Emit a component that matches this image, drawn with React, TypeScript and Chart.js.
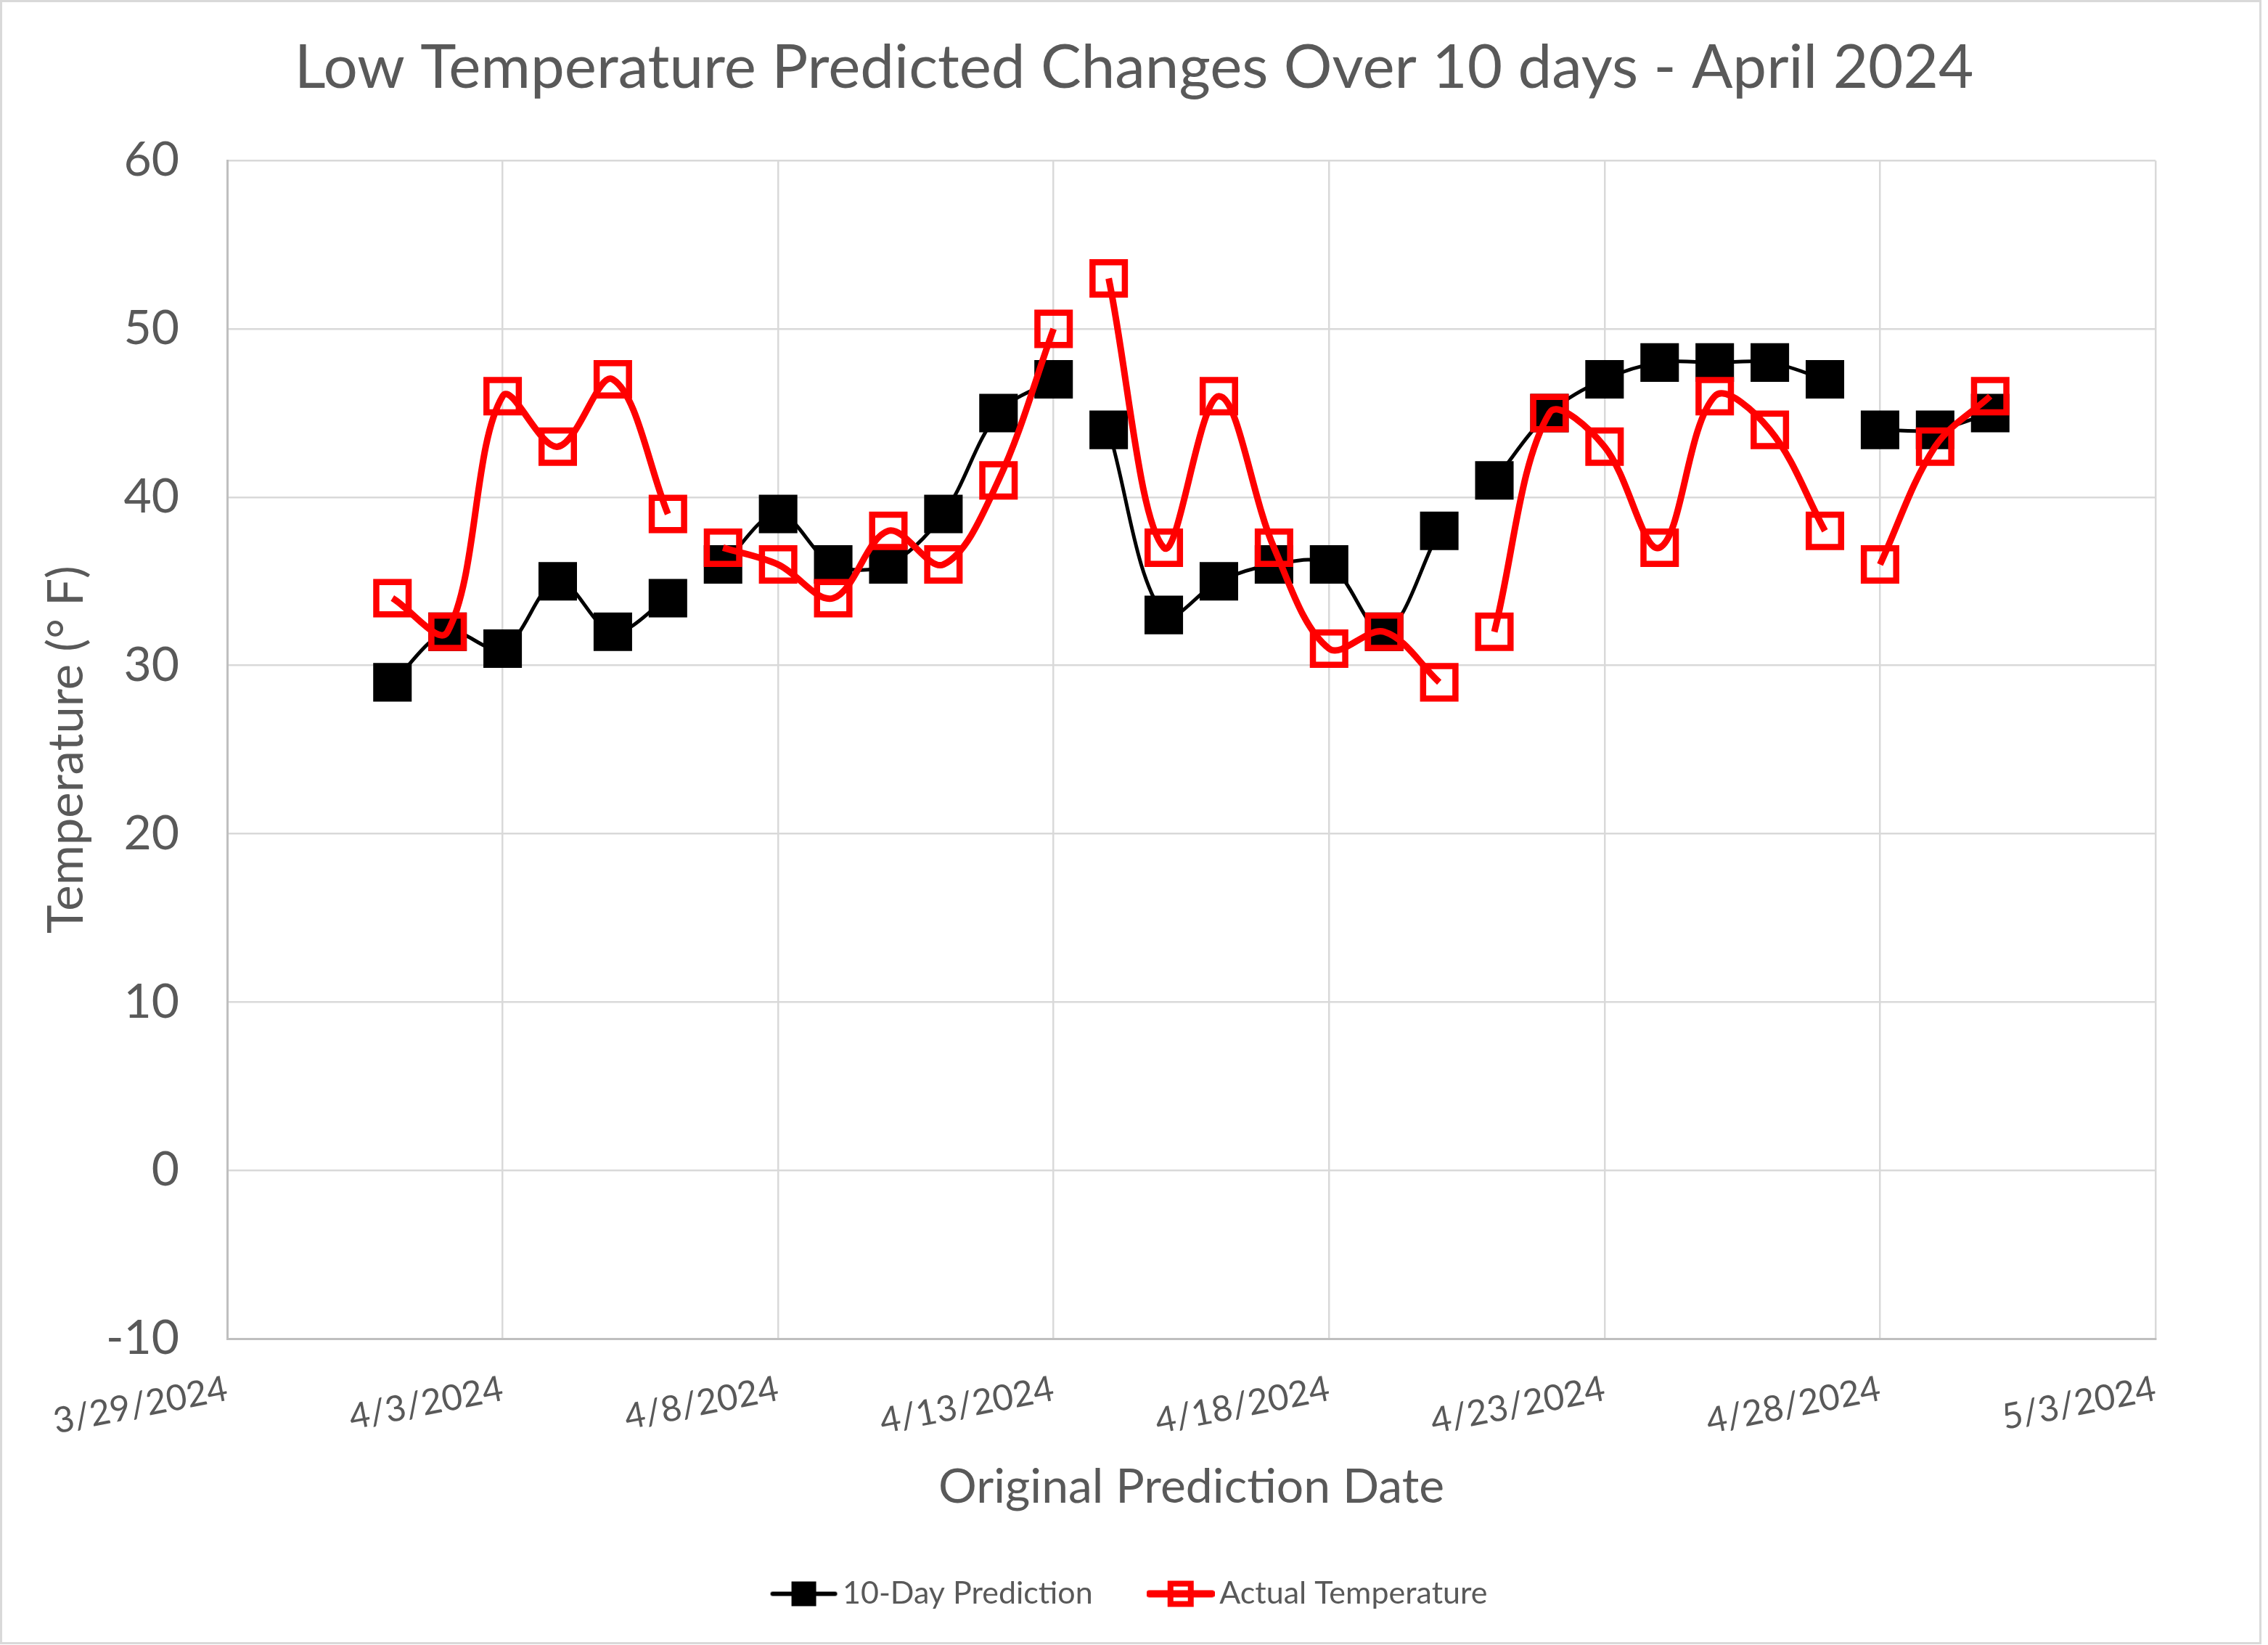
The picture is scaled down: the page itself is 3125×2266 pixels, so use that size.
import React, { useEffect, useRef } from 'react';
import { Chart, registerables } from 'chart.js';

Chart.register(...registerables);

const chartTitle = 'Low Temperature Predicted Changes Over 10 days - April 2024';
const xAxisTitle = 'Original Prediction Date';
const yAxisTitle = 'Temperature (° F)';
const predictionLabel = '10-Day Prediction';
const actualLabel = 'Actual Temperature';

const dates = [
  '4/1/2024', '4/2/2024', '4/3/2024', '4/4/2024', '4/5/2024', '4/6/2024',
  '4/7/2024', '4/8/2024', '4/9/2024', '4/10/2024', '4/11/2024', '4/12/2024', '4/13/2024',
  '4/14/2024', '4/15/2024', '4/16/2024', '4/17/2024', '4/18/2024', '4/19/2024', '4/20/2024',
  '4/21/2024', '4/22/2024', '4/23/2024', '4/24/2024', '4/25/2024', '4/26/2024', '4/27/2024',
  '4/28/2024', '4/29/2024', '4/30/2024',
];

const prediction = [
  29, 32, 31, 35, 32, 34,
  36, 39, 36, 36, 39, 45, 47,
  44, 33, 35, 36, 36, 32, 38,
  41, 45, 47, 48, 48, 48, 47,
  44, 44, 45,
];

const actual = [
  34, 32, 46, 43, 47, 39,
  37, 36, 34, 38, 36, 41, 50,
  53, 37, 46, 37, 31, 32, 29,
  32, 45, 43, 37, 46, 44, 38,
  36, 43, 46,
];

// the line is broken before each of these dates
const breakBefore = ['4/7/2024', '4/14/2024', '4/21/2024', '4/28/2024'];

const xTickLabels = [
  '3/29/2024', '4/3/2024', '4/8/2024', '4/13/2024',
  '4/18/2024', '4/23/2024', '4/28/2024', '5/3/2024',
];

const yMin = -10;
const yMax = 60;
const yStep = 10;

const FONT = 'Lato';
const TEXT = '#595959';
const GRID = '#d9d9d9';
const AXIS = '#bfbfbf';

function dayNum(s: string): number {
  const [m, d, y] = s.split('/').map(Number);
  const [m0, d0, y0] = xTickLabels[0].split('/').map(Number);
  return Math.round((Date.UTC(y, m - 1, d) - Date.UTC(y0, m0 - 1, d0)) / 86400000);
}

function buildPoints(values: number[]) {
  const pts: { x: number; y: number | null }[] = [];
  dates.forEach((d, i) => {
    const x = dayNum(d);
    if (breakBefore.includes(d)) pts.push({ x: x - 0.5, y: null });
    pts.push({ x, y: values[i] });
  });
  return pts;
}

function makeIcon(color: string, filled: boolean, lineW: number): HTMLCanvasElement {
  const c = document.createElement('canvas');
  c.width = 94;
  c.height = 40;
  const g = c.getContext('2d')!;
  g.strokeStyle = color;
  g.lineCap = 'round';
  g.lineWidth = lineW;
  g.beginPath();
  g.moveTo(4, 20);
  g.lineTo(90, 20);
  g.stroke();
  if (filled) {
    g.fillStyle = color;
    g.fillRect(47 - 17, 20 - 17, 34, 34);
  } else {
    g.lineWidth = 8;
    g.lineCap = 'butt';
    g.strokeRect(47 - 14, 20 - 14, 28, 28);
  }
  return c;
}

const outerBorder = {
  id: 'outerBorder',
  beforeDraw(chart: any) {
    const ctx = chart.ctx;
    ctx.save();
    ctx.fillStyle = '#ffffff';
    ctx.fillRect(0, 0, chart.width, chart.height);
    ctx.restore();
  },
  afterDraw(chart: any) {
    const ctx = chart.ctx;
    ctx.save();
    ctx.strokeStyle = GRID;
    ctx.lineWidth = 3;
    ctx.strokeRect(1.5, 1.5, 3113, 2262);
    ctx.restore();
  },
};

export default function App() {
  const ref = useRef<HTMLCanvasElement>(null);

  useEffect(() => {
    document.body.style.margin = '0';
    const icons = [makeIcon('#000000', true, 6), makeIcon('#ff0000', false, 10)];

    const chart = new Chart(ref.current!, {
      type: 'line',
      data: {
        datasets: [
          {
            label: predictionLabel,
            data: buildPoints(prediction),
            borderColor: '#000000',
            borderWidth: 5,
            tension: 0.35,
            spanGaps: false,
            pointStyle: 'rect',
            pointRadius: 35.4,
            pointBorderWidth: 3,
            pointBackgroundColor: '#000000',
            pointBorderColor: '#000000',
            order: 2,
          },
          {
            label: actualLabel,
            data: buildPoints(actual),
            borderColor: '#ff0000',
            borderWidth: 9,
            tension: 0.35,
            spanGaps: false,
            pointStyle: 'rect',
            pointRadius: 31.5,
            pointBorderWidth: 8.5,
            pointBackgroundColor: 'rgba(0,0,0,0)',
            pointBorderColor: '#ff0000',
            order: 1,
          },
        ],
      },
      options: {
        animation: false,
        responsive: false,
        devicePixelRatio: 1,
        layout: { padding: { left: 0, right: 0, top: 0, bottom: 39 } },
        plugins: {
          title: {
            display: true,
            text: chartTitle,
            color: TEXT,
            font: { family: FONT, size: 83.5, weight: 'normal', lineHeight: 1.2 },
            padding: { top: 44, bottom: 77 },
          },
          legend: {
            position: 'bottom',
            labels: {
              usePointStyle: true,
              pointStyleWidth: 64,
              padding: 89,
              color: TEXT,
              font: { family: FONT, size: 43 },
              generateLabels: (ch: any) =>
                ch.data.datasets.map((ds: any, i: number) => ({
                  text: ds.label,
                  pointStyle: icons[i],
                  fillStyle: ds.borderColor,
                  strokeStyle: ds.borderColor,
                  lineWidth: 0,
                  hidden: false,
                  datasetIndex: i,
                  fontColor: TEXT,
                })),
            },
          },
          tooltip: { enabled: false },
        },
        scales: {
          x: {
            type: 'linear',
            min: dayNum(xTickLabels[0]),
            max: dayNum(xTickLabels[xTickLabels.length - 1]),
            ticks: {
              stepSize: 5,
              autoSkip: false,
              callback: (_v: any, i: number) => xTickLabels[i],
              minRotation: 11,
              maxRotation: 11,
              padding: 40,
              color: TEXT,
              font: { family: FONT, size: 49 },
            },
            grid: { color: GRID, lineWidth: 2.5, drawTicks: false },
            border: { color: AXIS, width: 3 },
            title: {
              display: true,
              text: xAxisTitle,
              color: TEXT,
              font: { family: FONT, size: 66, lineHeight: 1.0 },
              padding: { top: 0, bottom: 3 },
            },
            afterFit: (s: any) => {
              s.height = 241;
            },
          },
          y: {
            min: yMin,
            max: yMax,
            ticks: {
              stepSize: yStep,
              padding: 66,
              color: TEXT,
              font: { family: FONT, size: 66 },
            },
            grid: { color: GRID, lineWidth: 2.5, drawTicks: false },
            border: { color: AXIS, width: 3 },
            title: {
              display: true,
              text: yAxisTitle,
              color: TEXT,
              font: { family: FONT, size: 67, lineHeight: 1.2 },
              padding: { top: 52, bottom: 0 },
            },
            afterFit: (s: any) => {
              s.width = 313;
            },
          },
          yRight: {
            position: 'right',
            display: true,
            ticks: { display: false },
            grid: { display: false, drawTicks: false },
            border: { display: false },
            afterFit: (s: any) => {
              s.width = 155;
            },
          },
        },
      } as any,
      plugins: [outerBorder],
    });
    return () => chart.destroy();
  }, []);

  return (
    <div style={{ width: 3125, height: 2266 }}>
      <canvas ref={ref} width={3125} height={2266} style={{ display: 'block', width: 3125, height: 2266 }} />
    </div>
  );
}
